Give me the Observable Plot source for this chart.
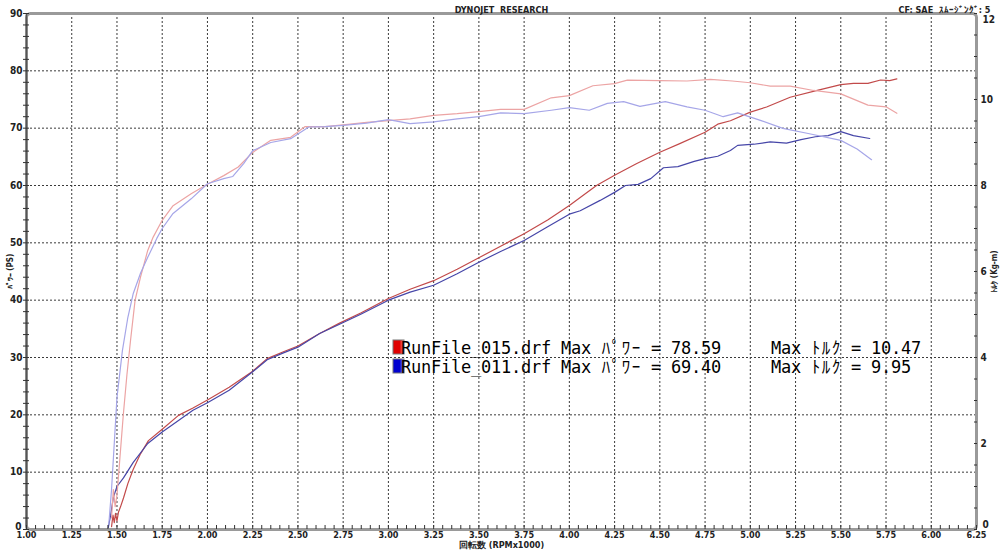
<!DOCTYPE html>
<html>
<head>
<meta charset="utf-8">
<script src="https://cdn.jsdelivr.net/npm/d3@7"></script>
<script src="https://cdn.jsdelivr.net/npm/@observablehq/plot@0.6"></script>
<style>
  html, body { margin: 0; padding: 0; background: #fff; }
  #chart { position: relative; width: 1000px; height: 550px; }
</style>
</head>
<body>
<div id="chart"></div>
<script>
// ---- Data ----
const title = "DYNOJET  RESEARCH";
const corrText = "CF: SAE  ｽﾑｰｼﾞﾝｸﾞ: 5";
const xLabel = "回転数 (RPMx1000)";
const yLeftLabel = "ﾊﾟﾜｰ (PS)";
const yRightLabel = "ﾄﾙｸ (Kg-m)";
const xTicks = [1.00, 1.25, 1.50, 1.75, 2.00, 2.25, 2.50, 2.75, 3.00, 3.25, 3.50, 3.75, 4.00, 4.25, 4.50, 4.75, 5.00, 5.25, 5.50, 5.75, 6.00, 6.25];
const powerTicks = [0, 10, 20, 30, 40, 50, 60, 70, 80, 90];
const torqueTicks = [0, 2, 4, 6, 8, 10, 12];
const runNames = ["RunFile_015.drf", "RunFile_011.drf"];
const maxPower = ["78.59", "69.40"];
const maxTorque = ["10.47", "9.95"];

// Run 015 power (PS)
const rpm015P = [1.470,1.478,1.485,1.492,1.500,1.508,1.520,1.536,1.560,1.590,1.630,1.674,1.750,1.840,1.920,2.000,2.120,2.250,2.330,2.420,2.500,2.620,2.730,2.850,3.000,3.120,3.250,3.380,3.500,3.620,3.750,3.880,4.000,4.060,4.150,4.250,4.370,4.500,4.610,4.750,4.820,4.890,5.000,5.090,5.220,5.370,5.500,5.570,5.650,5.720,5.770,5.810];
const power015 = [0.5,2.5,1.2,2.8,1.5,3.0,4.0,5.5,8.0,10.5,13.2,15.5,17.5,19.9,21.2,22.6,24.8,27.6,29.8,31.0,32.0,34.2,36.0,37.8,40.3,41.9,43.4,45.4,47.4,49.4,51.6,54.0,56.5,57.9,60.0,61.8,63.8,65.8,67.3,69.3,70.7,71.3,72.8,73.7,75.4,76.6,77.6,77.8,77.8,78.4,78.3,78.59];
// Run 011 power (PS)
const rpm011P = [1.450,1.465,1.480,1.500,1.536,1.590,1.670,1.750,1.840,1.920,2.000,2.120,2.250,2.330,2.420,2.500,2.620,2.730,2.850,3.000,3.120,3.250,3.380,3.500,3.620,3.750,3.880,4.000,4.060,4.170,4.250,4.310,4.380,4.450,4.520,4.600,4.690,4.750,4.820,4.890,4.930,5.020,5.110,5.200,5.280,5.360,5.430,5.500,5.570,5.660];
const power011 = [0,2.5,5.6,7.5,9.0,11.7,15.0,17.0,19.0,20.8,22.1,24.3,27.5,29.6,30.8,31.8,34.2,35.8,37.6,40.0,41.4,42.6,44.6,46.6,48.5,50.4,52.8,55.0,55.6,57.4,58.8,60.0,60.2,61.2,63.1,63.3,64.2,64.7,65.1,66.1,67.0,67.2,67.6,67.4,68.0,68.5,68.7,69.4,68.7,68.2];
// Run 015 torque (kg-m)
const rpm015T = [1.470,1.480,1.490,1.500,1.515,1.535,1.555,1.575,1.600,1.630,1.670,1.700,1.750,1.810,1.910,2.000,2.090,2.170,2.250,2.350,2.460,2.540,2.650,2.750,2.880,3.000,3.120,3.250,3.380,3.500,3.620,3.750,3.900,4.000,4.130,4.250,4.320,4.500,4.650,4.780,4.900,5.000,5.110,5.220,5.350,5.500,5.650,5.750,5.810];
const torque015 = [0.27,0.93,0.53,0.80,1.60,2.67,3.60,4.40,5.33,5.87,6.49,6.80,7.19,7.53,7.81,8.03,8.23,8.43,8.77,9.05,9.12,9.37,9.37,9.41,9.47,9.51,9.55,9.63,9.67,9.72,9.77,9.77,10.04,10.09,10.32,10.37,10.45,10.44,10.43,10.47,10.43,10.39,10.31,10.31,10.21,10.13,9.87,9.83,9.68];
// Run 011 torque (kg-m)
const rpm011T = [1.455,1.470,1.500,1.530,1.560,1.590,1.630,1.670,1.720,1.750,1.810,1.910,2.000,2.090,2.140,2.200,2.250,2.350,2.460,2.560,2.650,2.750,2.880,3.000,3.120,3.250,3.380,3.500,3.620,3.750,3.900,4.000,4.110,4.210,4.300,4.390,4.530,4.650,4.750,4.850,4.930,5.060,5.180,5.320,5.500,5.590,5.670];
const torque011 = [0.13,0.93,3.07,4.16,4.93,5.49,5.96,6.33,6.77,7.00,7.35,7.69,8.04,8.16,8.21,8.51,8.81,9.00,9.09,9.36,9.37,9.40,9.45,9.53,9.44,9.48,9.55,9.60,9.69,9.67,9.75,9.81,9.75,9.91,9.95,9.84,9.95,9.83,9.75,9.60,9.69,9.51,9.33,9.21,9.05,8.85,8.60];

// colours
const colPower015 = "#c24a4a", colTorque015 = "#eca4a4";
const colPower011 = "#4646a8", colTorque011 = "#a6a6e8";

// ---- tables built from the arrays ----
const PS_PER_KGM = 7.5; // torque axis 0..12 shares the 0..90 power range
const series = [
  {rpm: rpm015P, v: power015, stroke: colPower015, torque: false},
  {rpm: rpm011P, v: power011, stroke: colPower011, torque: false},
  {rpm: rpm015T, v: torque015, stroke: colTorque015, torque: true},
  {rpm: rpm011T, v: torque011, stroke: colTorque011, torque: true}
];
const rows = s => s.rpm.map((r, i) => ({rpm: r, val: s.v[i]}));

const fontStack = '"DejaVu Sans Condensed","Liberation Sans Narrow","DejaVu Sans",sans-serif';

const gridX = xTicks.slice(1, -1);
const gridY = powerTicks.slice(1, -1);
const minorX = d3.range(0, 106).map(i => 1 + i * 0.05);
const minorY = d3.range(0, 46).map(i => i * 2);
const minorR = d3.range(0, 25).map(i => i * 0.5 * PS_PER_KGM);
const rightMid = torqueTicks.slice(1, -1).map(t => t * PS_PER_KGM);
const rightTop = [torqueTicks[torqueTicks.length - 1] * PS_PER_KGM];
const rightBottom = [torqueTicks[0] * PS_PER_KGM];
const kgFmt = d => String(Math.round(d / PS_PER_KGM));

const chart = Plot.plot({
  width: 1000,
  height: 550,
  marginLeft: 26,
  marginRight: 24,
  marginTop: 13,
  marginBottom: 21,
  style: {fontFamily: fontStack, fontSize: "10px", fontWeight: "bold", color: "#222", background: "#fff", overflow: "visible"},
  x: {domain: [1, 6.25]},
  y: {domain: [0, 90]},
  marks: [
    Plot.ruleX(gridX, {stroke: "#3a3a3a", strokeWidth: 1, strokeDasharray: "2,2"}),
    Plot.ruleY(gridY, {stroke: "#3a3a3a", strokeWidth: 1, strokeDasharray: "2,2"}),
    ...series.map(s => Plot.line(rows(s), {
      x: "rpm",
      y: s.torque ? (d => d.val * PS_PER_KGM) : "val",
      stroke: s.stroke,
      strokeWidth: 1.2,
      curve: "linear"
    })),
    Plot.frame({stroke: "#9a9a9a", strokeWidth: 3, rx: 4}),
    Plot.ruleX([1], {stroke: "#555", strokeWidth: 1.5}),
    // left axis
    Plot.axisY({anchor: "left", ticks: minorY, tickSize: 3, text: null, label: null, stroke: "#333"}),
    Plot.axisY({anchor: "left", ticks: minorY, tickSize: 3, dx: 3, text: null, label: null, stroke: "#333"}),
    Plot.axisY({anchor: "left", ticks: powerTicks.slice(1), tickSize: 0, tickPadding: 4, tickFormat: d => String(d),
      label: yLeftLabel, labelAnchor: "center", labelOffset: 19, labelArrow: "none", fontSize: 10}),
    Plot.axisY({anchor: "left", ticks: powerTicks.slice(0, 1), tickSize: 0, tickPadding: 5, dy: -3, tickFormat: d => String(d), label: null}),
    // right axis (torque)
    Plot.axisY({anchor: "right", ticks: minorR, tickSize: 3, dx: -3, text: null, label: null, stroke: "#333"}),
    Plot.axisY({anchor: "right", ticks: rightMid, tickSize: 0, tickPadding: 4, tickFormat: kgFmt,
      label: yRightLabel, labelAnchor: "center", labelOffset: 20, labelArrow: "none", fontSize: 10}),
    Plot.axisY({anchor: "right", ticks: rightTop, tickSize: 0, tickPadding: 6, dy: 6, tickFormat: kgFmt, label: null}),
    Plot.axisY({anchor: "right", ticks: rightBottom, tickSize: 0, tickPadding: 6, dy: -5, tickFormat: kgFmt, label: null}),
    // bottom axis
    Plot.axisX({anchor: "bottom", ticks: minorX, tickSize: 4, dy: -4, text: null, label: null, stroke: "#333"}),
    Plot.axisX({anchor: "bottom", ticks: xTicks, tickSize: 0, tickPadding: 2, fontSize: 9, tickFormat: d => d.toFixed(2), label: null}),
    Plot.axisX({anchor: "bottom", ticks: [], tickSize: 0, fontSize: 9,
      label: xLabel, labelAnchor: "center", labelOffset: 18, labelArrow: "none"}),
    // header texts
    Plot.text([title], {frameAnchor: "top", dy: -7, fontSize: 9, fontWeight: "bold"}),
    Plot.text([corrText], {frameAnchor: "top-right", textAnchor: "end", dx: 14, dy: -7, fontSize: 9, fontWeight: "bold"})
  ]
});
document.getElementById("chart").appendChild(chart);

// shrink the rotated side labels so they sit beside the tick numbers
d3.select(chart).selectAll("text").filter(function() {
  const t = this.textContent;
  return t === yLeftLabel || t === yRightLabel;
}).attr("font-size", 8);

// ---- in-plot legend (monospaced, 10px pitch) ----
const svg = d3.select(chart);
const legendLines = runNames.map((n, i) =>
  `${n} Max ﾊﾟﾜｰ = ${maxPower[i]}     Max ﾄﾙｸ = ${maxTorque[i]}`);
const legendColors = [["#e00000", "#ff9a9a"], ["#0000d0", "#9a9aff"]];
const defs = svg.append("defs");
legendColors.forEach((c, i) => {
  const g = defs.append("linearGradient").attr("id", "lg" + i).attr("x1", 0).attr("x2", 1);
  g.append("stop").attr("offset", "0%").attr("stop-color", c[0]);
  g.append("stop").attr("offset", "60%").attr("stop-color", c[0]);
  g.append("stop").attr("offset", "100%").attr("stop-color", c[1]);
});
const lg = svg.append("g").attr("transform", "translate(393,340)");
legendLines.forEach((line, i) => {
  const y0 = i * 19;
  lg.append("rect").attr("x", 0).attr("y", y0).attr("width", 11).attr("height", 14)
    .attr("fill", `url(#lg${i})`).attr("stroke", "#777").attr("stroke-width", 1);
  const chars = Array.from(line);
  lg.append("text")
    .attr("x", chars.map((c, k) => 13 + k * 10).join(" "))
    .attr("y", y0 + 14)
    .attr("font-family", '"DejaVu Sans Mono","Noto Sans CJK JP",monospace')
    .attr("font-size", 17)
    .attr("font-weight", "normal")
    .attr("fill", "#000")
    .text(line);
});
</script>
</body>
</html>
